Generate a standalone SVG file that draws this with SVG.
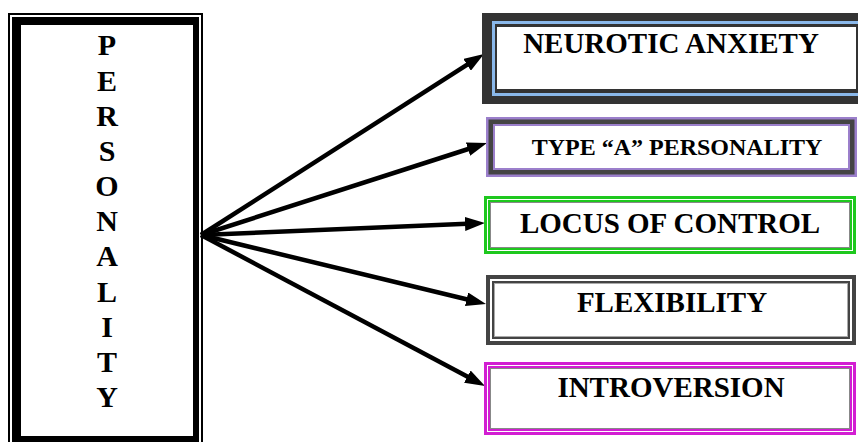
<svg xmlns="http://www.w3.org/2000/svg" width="858" height="442" viewBox="0 0 858 442">
  <style>
    text { font-family: "Liberation Serif", "Times New Roman", serif; font-weight: bold; fill: #000; }
    .letter { font-size: 30px; text-anchor: middle; }
    .label { font-size: 29px; text-anchor: middle; }
    .small { font-size: 24px; text-anchor: middle; }
    .conn { stroke: #000; stroke-width: 4.5; fill: none; marker-end: url(#head); }
  </style>
  <defs>
    <marker id="head" markerUnits="userSpaceOnUse" markerWidth="20" markerHeight="14" refX="2" refY="7" orient="auto">
      <path d="M0,0 L20,7 L0,14 z" fill="#000"/>
    </marker>
  </defs>

  <rect width="858" height="442" fill="#fff"/>

  <!-- Left vertical box -->
  <g id="personality">
    <rect x="9" y="14" width="193" height="440" fill="none" stroke="#000" stroke-width="2"/>
    <path d="M12,17 H199 V450 H12 Z M21,25 V436 H193 V25 Z" fill="#000" fill-rule="evenodd"/>
    <text class="letter" x="107" y="55">P</text>
    <text class="letter" x="107" y="91">E</text>
    <text class="letter" x="107" y="126">R</text>
    <text class="letter" x="107" y="161">S</text>
    <text class="letter" x="107" y="196">O</text>
    <text class="letter" x="107" y="231">N</text>
    <text class="letter" x="107" y="266">A</text>
    <text class="letter" x="107" y="302">L</text>
    <text class="letter" x="107" y="337">I</text>
    <text class="letter" x="107" y="372">T</text>
    <text class="letter" x="107" y="407">Y</text>
  </g>

  <!-- Connectors -->
  <g id="connectors">
    <line class="conn" x1="201" y1="235" x2="468.8" y2="63.7"/>
    <line class="conn" x1="201" y1="235" x2="469.9" y2="148.5"/>
    <line class="conn" x1="201" y1="235" x2="467.0" y2="223.8"/>
    <line class="conn" x1="201" y1="235" x2="468.5" y2="299.8"/>
    <line class="conn" x1="201" y1="235" x2="469.1" y2="377.6"/>
  </g>

  <!-- Neurotic anxiety -->
  <g id="neurotic-anxiety">
    <rect x="482" y="13" width="390" height="91" fill="#333"/>
    <rect x="492" y="21" width="372" height="75" fill="#8ab8ea"/>
    <rect x="495" y="24" width="365" height="69" fill="#333"/>
    <rect x="497" y="27" width="359" height="62" fill="#fff"/>
    <text class="label" x="671" y="53">NEUROTIC ANXIETY</text>
  </g>

  <!-- Type A personality -->
  <g id="type-a">
    <rect x="486" y="117" width="371" height="60" fill="#9b7fcb"/>
    <rect x="488.5" y="119.5" width="366" height="55" fill="#444"/>
    <rect x="493" y="124" width="357" height="46" fill="#9b7fcb"/>
    <rect x="495" y="126" width="353" height="42" fill="#fff"/>
    <text class="small" x="677" y="155">TYPE “A” PERSONALITY</text>
  </g>

  <!-- Locus of control -->
  <g id="locus-of-control">
    <rect x="485.5" y="197.5" width="369" height="55" fill="#fff" stroke="#1ec81e" stroke-width="3"/>
    <rect x="489" y="201" width="362" height="48" fill="none" stroke="#1ec81e" stroke-width="2"/>
    <rect x="490.5" y="202.5" width="359" height="45" fill="#fff" stroke="#888" stroke-width="1"/>
    <text class="label" x="670" y="233">LOCUS OF CONTROL</text>
  </g>

  <!-- Flexibility -->
  <g id="flexibility">
    <rect x="488" y="277" width="366" height="66" fill="#fff" stroke="#444" stroke-width="4"/>
    <rect x="493" y="282" width="356" height="56" fill="none" stroke="#444" stroke-width="2"/>
    <rect x="494.5" y="283.5" width="353" height="53" fill="none" stroke="#aaa" stroke-width="1"/>
    <text class="label" x="672" y="312">FLEXIBILITY</text>
  </g>

  <!-- Introversion -->
  <g id="introversion">
    <rect x="485.5" y="363.5" width="369" height="70" fill="#fff" stroke="#d21ed2" stroke-width="3"/>
    <rect x="489" y="367" width="362" height="63" fill="none" stroke="#d21ed2" stroke-width="2"/>
    <rect x="490.5" y="368.5" width="359" height="60" fill="#fff" stroke="#888" stroke-width="1"/>
    <text class="label" x="671" y="397">INTROVERSION</text>
  </g>
</svg>
